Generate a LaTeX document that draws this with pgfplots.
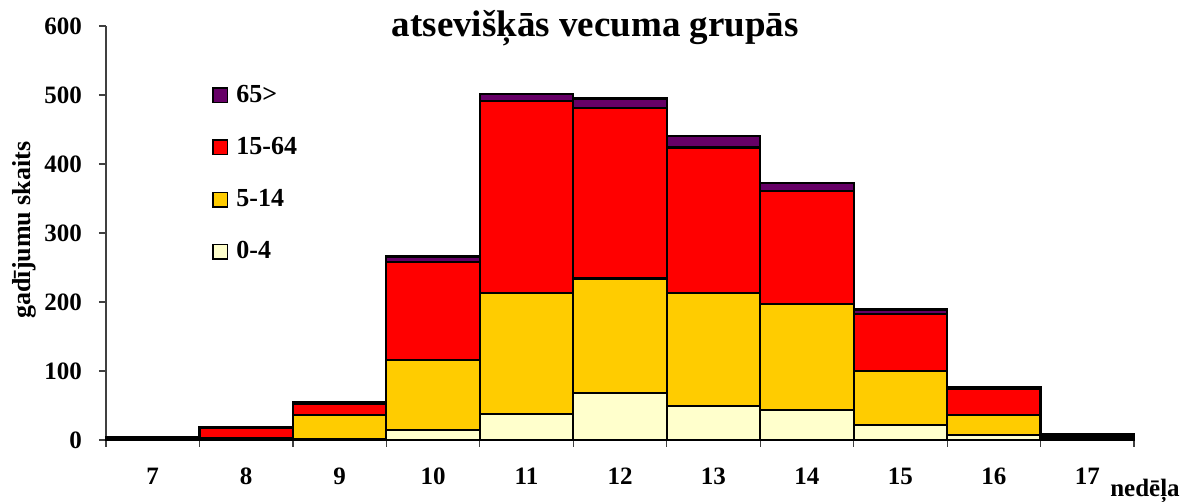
\documentclass[border=0pt]{standalone}
\usepackage{fontspec}
\setmainfont{Liberation Serif}
\usepackage{pgfplots}
\usepackage{pgfplotstable}
\pgfplotsset{compat=1.18}

\definecolor{cA}{HTML}{FFFFCC}
\definecolor{cB}{HTML}{FFCC00}
\definecolor{cC}{HTML}{FF0000}
\definecolor{cD}{HTML}{660066}

\pgfplotstableread{
w a b c d
7 0 1 2 1
8 0 3 14 1
9 1 35 17 2
10 14 102 142 8
11 38 175 278 10
12 68 166 247 14
13 49 164 211 17
14 44 153 164 11
15 22 78 83 6
16 7 29 38 3
17 1 3 4 1
}\data

\pgfplotsset{
  sq/.style={legend image code/.code={\draw[##1, draw=black, line width=0.8pt] (0pt,-3.6pt) rectangle (7.2pt,3.6pt); \path[draw=none, fill=none] (7.2pt,0pt) rectangle (9.7pt,0.1pt);}},
}

\begin{document}
\begin{tikzpicture}
\begin{axis}[
  at={(0,0)}, anchor=south west,
  scale only axis, width=514pt, height=207pt,
  xmin=6.5, xmax=17.5, ymin=0, ymax=600,
  ybar stacked, bar width=1,
  axis x line*=bottom, axis y line*=left,
  axis line style={black!75, line width=0.6pt, -},
  xtick={6.5,7.5,...,17.5},
  xticklabels={7,8,9,10,11,12,13,14,15,16,17},
  x tick label as interval,
  ytick={0,100,...,600},
  tick align=outside,
  major tick length=3.5pt,
  tick style={black!75, line width=0.6pt},
  /pgf/number format/assume math mode=true,
  ticklabel style={font=\fontsize{12.5}{14}\selectfont\bfseries},
  yticklabel style={xshift=-5pt},
  xticklabel style={yshift=-7pt},
  ylabel={gadījumu skaits},
  ylabel style={font=\fontsize{13}{15}\selectfont\bfseries, at={(axis description cs:-0.0798,0.507)}, anchor=center},
  reverse legend,
  legend style={draw=none, fill=none, at={(axis description cs:0.103,0.868)}, anchor=north west,
    font=\fontsize{13}{15}\selectfont\bfseries, row sep=12.0pt, inner sep=0pt,
    nodes={inner sep=2pt}},
  legend cell align=left,
  clip=false,
]
\addplot[fill=cA, draw=black, line width=1.1pt, sq] table[x=w, y=a] {\data};
\addplot[fill=cB, draw=black, line width=1.1pt, sq] table[x=w, y=b] {\data};
\addplot[fill=cC, draw=black, line width=1.1pt, sq] table[x=w, y=c] {\data};
\addplot[fill=cD, draw=black, line width=1.1pt, sq] table[x=w, y=d] {\data};
\legend{0-4,5-14,15-64,65>}
\node[font=\fontsize{18.5}{22}\selectfont\bfseries, anchor=center] at (rel axis cs:0.476,0.995) {atsevišķās vecuma grupās};
\node[font=\fontsize{12.5}{14}\selectfont\bfseries, anchor=center] at (axis description cs:1.0107,-0.123) {nedēļa};
\end{axis}
\pgfresetboundingbox
\path (-53pt,-31pt) rectangle (538pt,220pt);
\end{tikzpicture}
\end{document}
